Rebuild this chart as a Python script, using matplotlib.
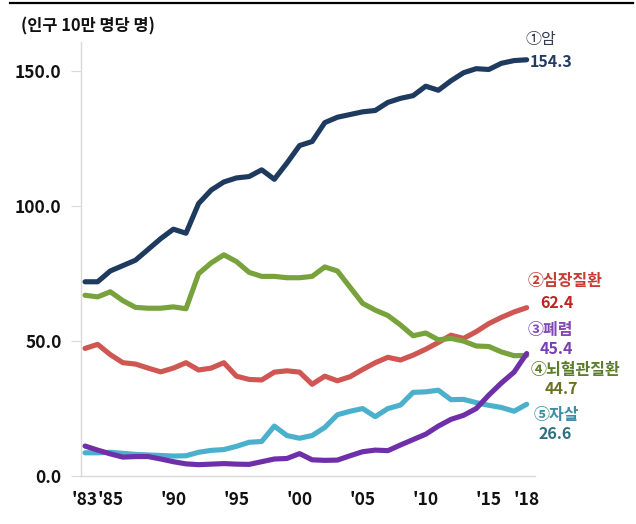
import matplotlib
matplotlib.use("Agg")
import matplotlib.pyplot as plt
from matplotlib.lines import Line2D

plt.rcParams['font.family'] = ['Noto Sans CJK KR', 'DejaVu Sans']

years = list(range(1983, 2019))

cancer = [72.0, 72.0, 76.0, 78.0, 80.0, 84.0, 88.0, 91.5, 90.0, 101.0,
          106.0, 109.0, 110.5, 111.0, 113.5, 110.0, 116.0, 122.5, 124.0, 131.0,
          133.0, 134.0, 135.0, 135.5, 138.5, 140.0, 141.0, 144.5, 143.0, 146.5,
          149.5, 151.0, 150.7, 153.0, 154.0, 154.3]
heart = [47.3, 48.8, 45.0, 42.0, 41.5, 40.0, 38.6, 40.0, 42.0, 39.3,
         40.0, 42.0, 37.0, 35.8, 35.6, 38.5, 39.0, 38.5, 34.0, 37.0,
         35.3, 36.8, 39.5, 42.0, 44.0, 43.0, 44.8, 47.0, 49.5, 52.2,
         51.0, 53.5, 56.5, 58.8, 60.8, 62.4]
stroke = [67.0, 66.4, 68.3, 65.0, 62.5, 62.2, 62.2, 62.7, 62.0, 75.0,
          79.0, 82.0, 79.5, 75.5, 74.0, 74.0, 73.5, 73.5, 74.0, 77.5,
          76.0, 70.0, 64.0, 61.5, 59.5, 56.0, 52.0, 53.0, 50.5, 51.0,
          50.0, 48.2, 48.0, 46.0, 44.6, 44.7]
pneumonia = [11.1, 9.6, 8.2, 7.0, 7.2, 7.2, 6.3, 5.3, 4.5, 4.2,
             4.4, 4.6, 4.4, 4.3, 5.3, 6.3, 6.5, 8.3, 6.0, 5.8,
             5.9, 7.5, 9.0, 9.6, 9.4, 11.5, 13.5, 15.5, 18.5, 21.0,
             22.5, 25.0, 30.0, 34.5, 38.5, 45.4]
suicide = [8.6, 8.6, 8.8, 8.4, 8.0, 7.8, 7.6, 7.4, 7.5, 8.8,
           9.5, 9.8, 11.0, 12.5, 12.8, 18.5, 15.0, 14.0, 15.0, 18.0,
           22.7, 24.0, 25.0, 22.0, 25.0, 26.3, 31.0, 31.2, 31.8, 28.3,
           28.4, 27.2, 26.2, 25.4, 24.0, 26.6]

tick_years = [1983, 1985, 1990, 1995, 2000, 2005, 2010, 2015, 2018]
tick_labels = ["'83", "'85", "'90", "'95", "'00", "'05", "'10", "'15", "'18"]
y_ticks = [0, 50, 100, 150]
y_tick_labels = ["0.0", "50.0", "100.0", "150.0"]

series_names = ["①암", "②심장질환", "③폐렴", "④뇌혈관질환", "⑤자살"]
series_last = ["154.3", "62.4", "45.4", "44.7", "26.6"]

fig = plt.figure(figsize=(6.36, 5.24), dpi=100)
ax = fig.add_axes([81/636, 48/524, (535-81)/636, (482.3-48)/524])

line_specs = [
    (cancer, '#1f3a5f'),
    (heart, '#cf5652'),
    (stroke, '#78a23c'),
    (pneumonia, '#6f2fa8'),
    (suicide, '#4bb0cc'),
]
draw_order = [1, 2, 4, 3, 0]
for i in draw_order:
    vals, col = line_specs[i]
    ax.plot(years, vals, color=col, lw=3.7, solid_joinstyle='round',
            solid_capstyle='round', zorder=3)

ax.set_xlim(1982.68, 2018.66)
ax.set_ylim(0, 161)

for s in ['top', 'right']:
    ax.spines[s].set_visible(False)
ax.spines['left'].set_color('#d9d9d9')
ax.spines['bottom'].set_color('#d9d9d9')
ax.spines['left'].set_linewidth(1.0)
ax.spines['bottom'].set_linewidth(1.0)

ax.set_yticks(y_ticks)
ax.set_yticklabels(y_tick_labels)
ax.set_xticks(tick_years)
ax.set_xticklabels(tick_labels)
ax.tick_params(axis='y', length=7, color='#d9d9d9', pad=7,
               labelsize=12.5)
ax.tick_params(axis='x', length=0, pad=11, labelsize=12.5)
for lab in ax.get_yticklabels() + ax.get_xticklabels():
    lab.set_fontweight('bold')
    lab.set_color('#111111')

fig.text(21/636, 1 - 26/524, "(인구 10만 명당 명)", fontsize=11.8,
         fontweight='bold', ha='left', va='center', color='#111111')

fig.add_artist(Line2D([10/636, 633/636], [1 - 2.5/524, 1 - 2.5/524],
                      color='black', lw=1.6))

ann = [
    (series_names[0], 2017.87, 162.0, '#333f50', 'normal'),
    (series_last[0], 2018.26, 153.5, '#243c64', 'bold'),
    (series_names[1], 2018.10, 72.2, '#c83c35', 'bold'),
    (series_last[1], 2019.05, 64.0, '#c0231f', 'bold'),
    (series_names[2], 2018.10, 54.3, '#8048b8', 'bold'),
    (series_last[2], 2019.05, 47.2, '#7a3fb0', 'bold'),
    (series_names[3], 2018.34, 39.3, '#5e7d2c', 'bold'),
    (series_last[3], 2019.45, 32.4, '#6b7224', 'bold'),
    (series_names[4], 2018.58, 22.5, '#3b8ea3', 'bold'),
    (series_last[4], 2018.90, 15.4, '#2e6f80', 'bold'),
]
for txt, x, y, col, w in ann:
    ax.text(x, y, txt, color=col, fontsize=11.5, fontweight=w,
            ha='left', va='center', clip_on=False)

fig.savefig('out.png', dpi=100)
